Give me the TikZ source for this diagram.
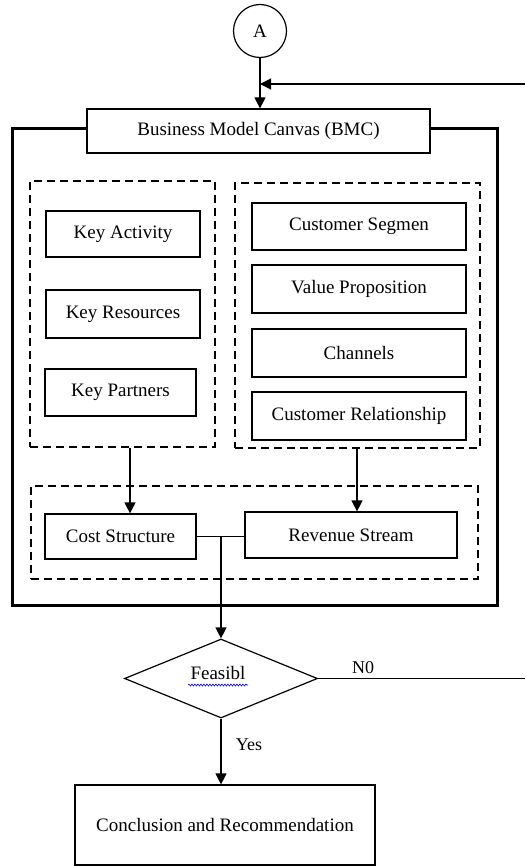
\documentclass[tikz,border=0pt]{standalone}
\usepackage{fontspec}
\setmainfont{Liberation Serif}
\usetikzlibrary{arrows.meta,shapes.geometric,decorations.pathmorphing}
\begin{document}
\begin{tikzpicture}[x=1pt,y=-1pt,
  every node/.style={font=\fontsize{19}{22}\selectfont},
  box/.style={draw, line width=1.2pt, inner sep=0pt, fill=white},
  dbox/.style={draw, line width=1.2pt, dash pattern=on 8pt off 5pt, inner sep=0pt},
  line/.style={line width=1.2pt},
  arr/.style={line width=1.2pt, -{Triangle[length=11pt,width=11pt]}},
  lbl/.style={font=\fontsize{18}{21}\selectfont, inner sep=0pt}]
\useasboundingbox (0,0) rectangle (525,866);
% outer thick frame
\draw[line width=3pt] (12,129) rectangle (497,605);
% top
\node[draw, circle, line width=1.2pt, minimum size=53pt, inner sep=0pt] (A) at (260,31) {A};
\node[box, minimum width=343pt, minimum height=44pt] (bmc) at (258.5,131) {Business Model Canvas (BMC)};
\coordinate (fb) at (525,84);
\draw[arr] (A) -- (A |- bmc.north);
\draw[arr] (fb) -- (A |- fb);
% left group
\node[dbox, minimum width=185pt, minimum height=266pt] (ld) at (122.5,314) {};
\node[box, minimum width=154pt, minimum height=46pt] (ka) at (123,234) {Key Activity};
\node[box, minimum width=154pt, minimum height=48pt] (kr) at (123,314) {Key Resources};
\node[box, minimum width=151pt, minimum height=47pt] (kp) at (120.5,392.5) {Key Partners};
% right group
\node[dbox, minimum width=245pt, minimum height=265pt] (rd) at (357.5,315.5) {};
\node[box, minimum width=214pt, minimum height=47pt] (cs) at (359,226.5) {Customer Segmen};
\node[box, minimum width=214pt, minimum height=48pt] (vp) at (359,289) {Value Proposition};
\node[box, minimum width=214pt, minimum height=48pt] (ch) at (359,353) {Channels};
\node[box, minimum width=214pt, minimum height=48pt] (cr) at (359,416) {Customer Relationship};
% bottom group
\node[dbox, minimum width=447pt, minimum height=93pt] (bd) at (254.5,532.5) {};
\node[box, minimum width=151pt, minimum height=45pt] (cost) at (120.5,536.5) {Cost Structure};
\node[box, minimum width=212pt, minimum height=46pt] (rev) at (351,535) {Revenue Stream};
\coordinate (la) at (130,0);
\coordinate (ra) at (357,0);
\draw[arr] (ld.south -| la) -- (cost.north -| la);
\draw[arr] (rd.south -| ra) -- (rev.north -| ra);
% decision
\node[draw, diamond, line width=1.2pt, inner sep=0pt, minimum width=193pt, minimum height=79pt] (dia) at (221,678.5) {};
\node[inner sep=0pt] (ftxt) at (218,673) {Feasibl};
\draw[blue, line width=0.6pt, decorate, decoration={snake, amplitude=1pt, segment length=3pt}] (188,685) -- (248,685);
\coordinate (m) at (cost.east -| dia.north);
\draw[line] (cost.east) -- (cost.east -| rev.west);
\draw[arr] (m) -- (dia.north);
\coordinate (no) at (525,678.5);
\draw[line] (dia.east) -- (no);
\node[lbl] (n0) at (363,668) {N0};
\node[box, minimum width=300pt, minimum height=80pt] (conc) at (225,825) {Conclusion and Recommendation};
\draw[arr] (dia.south) -- (dia.south |- conc.north);
\node[lbl] (yes) at (249,745) {Yes};
\end{tikzpicture}
\end{document}
